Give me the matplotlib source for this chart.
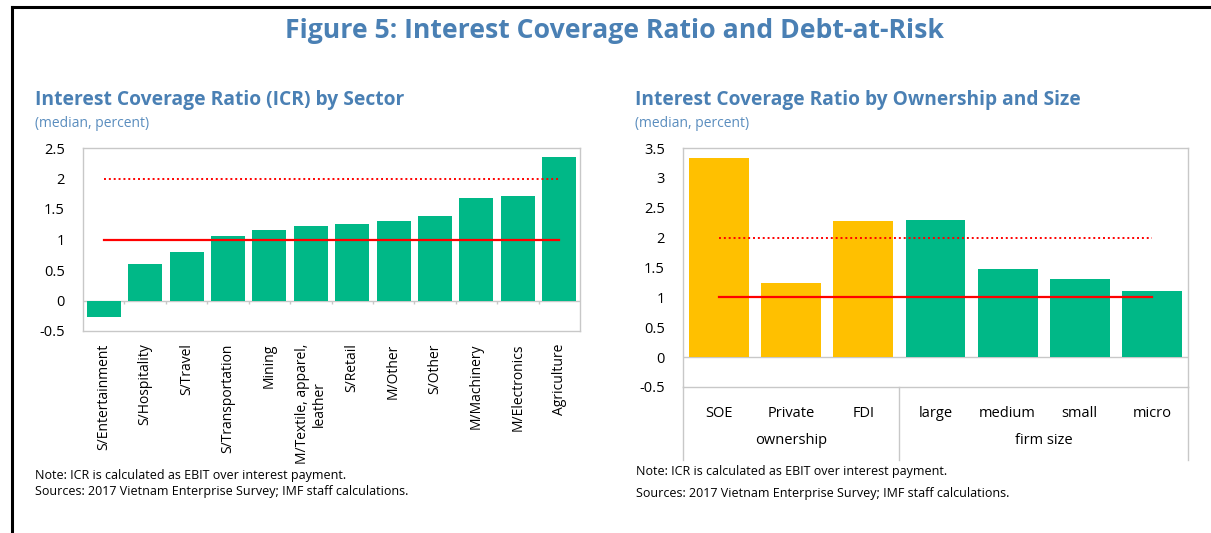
import matplotlib
matplotlib.use("Agg")
from matplotlib import pyplot as plt
from matplotlib.transforms import blended_transform_factory

plt.rcParams['font.family'] = ['Open Sans', 'DejaVu Sans']

# left panel: ICR by sector
sectors = ["S/Entertainment", "S/Hospitality", "S/Travel", "S/Transportation",
           "Mining", "M/Textile, apparel,\nleather", "S/Retail", "M/Other",
           "S/Other", "M/Machinery", "M/Electronics", "Agriculture"]
sector_icr = [-0.27, 0.60, 0.79, 1.06, 1.15, 1.22, 1.25, 1.31, 1.38, 1.68, 1.71, 2.36]

# right panel: ICR by ownership and size
firm_types = ["SOE", "Private", "FDI", "large", "medium", "small", "micro"]
firm_icr = [3.33, 1.24, 2.27, 2.30, 1.48, 1.31, 1.10]
firm_groups = ["ownership", "ownership", "ownership",
               "firm size", "firm size", "firm size", "firm size"]

# thresholds drawn as red lines
icr_floor = 1
icr_warn = 2

GREEN = '#00B887'
YELLOW = '#FFC000'
BLUE = '#4A80B4'
LIGHTBLUE = '#5A8DBE'
GRID = '#C8C8C8'

fig = plt.figure(figsize=(12.11, 5.33), dpi=100)
W, H = 1211, 533

def px_axes(x0, y0, x1, y1):
    return fig.add_axes([x0 / W, 1 - y1 / H, (x1 - x0) / W, (y1 - y0) / H])

# outer frame (top and left)
fig.add_artist(plt.Line2D([12 / W, 12 / W], [0, 1 - 7 / H], color='black', lw=2.2))
fig.add_artist(plt.Line2D([12 / W, 1], [1 - 7 / H, 1 - 7 / H], color='black', lw=2.2))

fig.text(615 / W, 1 - 31 / H, "Figure 5: Interest Coverage Ratio and Debt-at-Risk",
         ha='center', va='center', fontsize=19.2, fontweight='bold', color=BLUE)

def style_frame(ax):
    for s in ax.spines.values():
        s.set_color(GRID)
        s.set_linewidth(1.0)
    ax.tick_params(axis='y', length=0, labelsize=10.5, pad=13)
    ax.tick_params(axis='x', length=0)
    ax.axhline(0, color=GRID, lw=1.0, zorder=1)

# ---- left chart
ax1 = px_axes(83, 148, 580, 331)
x1 = range(len(sectors))
ax1.bar(x1, sector_icr, width=0.82, color=GREEN, zorder=2)
ax1.plot([x1[0], x1[-1]], [icr_floor, icr_floor], color='#FF0000', lw=1.6, zorder=3)
ax1.plot([x1[0], x1[-1]], [icr_warn, icr_warn], color='#FF0000', lw=1.4,
         ls=(0, (1, 1.5)), zorder=3)
ax1.set_xlim(-0.5, len(sectors) - 0.5)
ax1.set_ylim(-0.5, 2.5)
ax1.set_yticks([-0.5, 0, 0.5, 1, 1.5, 2, 2.5])
ax1.set_yticklabels(["-0.5", "0", "0.5", "1", "1.5", "2", "2.5"])
style_frame(ax1)
# small category tick marks hanging off the zero line
ax1.vlines([i + 0.5 for i in range(len(sectors) - 1)], -0.06, 0, color=GRID, lw=1.0)
ax1.set_xticks(list(x1))
ax1.set_xticklabels(sectors, rotation=90, va='top', ha='center',
                    multialignment='center', fontsize=10)
ax1.tick_params(axis='x', pad=9)

fig.text(35 / W, 1 - 100 / H, "Interest Coverage Ratio (ICR) by Sector",
         ha='left', va='center', fontsize=13.9, fontweight='bold', color=BLUE)
fig.text(35 / W, 1 - 123 / H, "(median, percent)", ha='left', va='center',
         fontsize=10, color=LIGHTBLUE)
fig.text(35 / W, 1 - 475 / H, "Note: ICR is calculated as EBIT over interest payment.",
         ha='left', va='center', fontsize=9)
fig.text(35 / W, 1 - 492 / H, "Sources: 2017 Vietnam Enterprise Survey; IMF staff calculations.",
         ha='left', va='center', fontsize=9)

# ---- right chart
ax2 = px_axes(683, 148, 1188, 387)
x2 = range(len(firm_types))
colors = [YELLOW if g == "ownership" else GREEN for g in firm_groups]
ax2.bar(x2, firm_icr, width=0.83, color=colors, zorder=2)
ax2.plot([x2[0], x2[-1]], [icr_floor, icr_floor], color='#FF0000', lw=1.6, zorder=3)
ax2.plot([x2[0], x2[-1]], [icr_warn, icr_warn], color='#FF0000', lw=1.4,
         ls=(0, (1, 1.5)), zorder=3)
ax2.set_xlim(-0.5, len(firm_types) - 0.5)
ax2.set_ylim(-0.5, 3.5)
ax2.set_yticks([-0.5, 0, 0.5, 1, 1.5, 2, 2.5, 3, 3.5])
ax2.set_yticklabels(["-0.5", "0", "0.5", "1", "1.5", "2", "2.5", "3", "3.5"])
style_frame(ax2)
ax2.set_xticks(list(x2))
ax2.set_xticklabels(firm_types, fontsize=10.5)
ax2.tick_params(axis='x', pad=14)

# group labels and separators below the axis
trans = blended_transform_factory(ax2.transData, ax2.transAxes)
group_names = []
for g in firm_groups:
    if g not in group_names:
        group_names.append(g)
start = 0
edges = [-0.5]
for g in group_names:
    n = firm_groups.count(g)
    mid = start + (n - 1) / 2
    ax2.text(mid, -0.225, g, transform=trans, ha='center', va='center', fontsize=10.5)
    start += n
    edges.append(start - 0.5)
for e in edges:
    ax2.plot([e, e], [0, -0.305], transform=trans, color=GRID, lw=1.0, clip_on=False)

fig.text(635 / W, 1 - 100 / H, "Interest Coverage Ratio by Ownership and Size",
         ha='left', va='center', fontsize=13.8, fontweight='bold', color=BLUE)
fig.text(635 / W, 1 - 123 / H, "(median, percent)", ha='left', va='center',
         fontsize=10, color=LIGHTBLUE)
fig.text(636 / W, 1 - 472 / H, "Note: ICR is calculated as EBIT over interest payment.",
         ha='left', va='center', fontsize=9)
fig.text(636 / W, 1 - 493 / H, "Sources: 2017 Vietnam Enterprise Survey; IMF staff calculations.",
         ha='left', va='center', fontsize=9)

fig.savefig("out.png", dpi=100)
